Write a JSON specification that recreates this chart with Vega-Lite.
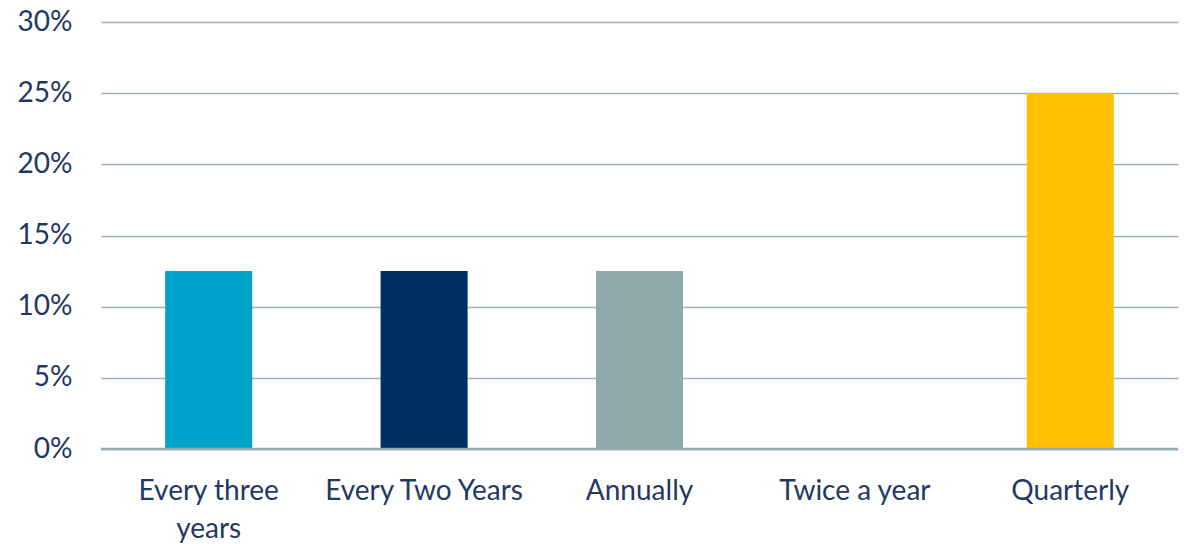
{
  "$schema": "https://vega.github.io/schema/vega-lite/v6.json",
  "autosize": {"type": "none"},
  "width": 1077,
  "height": 427,
  "padding": {"left": 101, "top": 22, "right": 6, "bottom": 95},
  "background": "white",
  "config": {"view": {"stroke": null}, "font": "Lato"},
  "data": {"values": [
    {"freq": "Every three years", "pct": 0.125},
    {"freq": "Every Two Years", "pct": 0.125},
    {"freq": "Annually", "pct": 0.125},
    {"freq": "Twice a year", "pct": 0},
    {"freq": "Quarterly", "pct": 0.25}
  ]},
  "layer": [
    {
      "mark": {"type": "bar"},
      "encoding": {
        "x": {
          "field": "freq", "type": "nominal", "sort": null,
          "scale": {"paddingInner": 0.596, "paddingOuter": 0.298},
          "axis": {
            "title": null, "labelAngle": 0, "domain": false, "ticks": false, "labelLimit": 0,
            "labelFontSize": 28, "labelColor": "#1F3864", "labelPadding": 28,
            "labelLineHeight": 38, "labelFont": "Lato",
            "labelExpr": "datum.label == 'Every three years' ? ['Every three', 'years'] : datum.label"
          }
        },
        "y": {
          "field": "pct", "type": "quantitative",
          "scale": {"domain": [0, 0.3], "nice": false},
          "axis": {
            "title": null, "format": ".0%", "values": [0, 0.05, 0.1, 0.15, 0.2, 0.25, 0.3],
            "domain": false, "ticks": false, "labelFontSize": 28, "labelColor": "#1F3864",
            "labelPadding": 29, "gridColor": "#9DB3B9", "gridWidth": 1.4, "labelFont": "Lato"
          }
        },
        "color": {
          "field": "freq", "type": "nominal", "legend": null,
          "scale": {
            "domain": ["Every three years", "Every Two Years", "Annually", "Twice a year", "Quarterly"],
            "range": ["#00A3C9", "#003060", "#8FA8AC", "#7F7F7F", "#FFC000"]
          }
        }
      }
    },
    {
      "data": {"values": [{"base": 0}]},
      "mark": {"type": "rule", "color": "#97ACB2", "strokeWidth": 2.5},
      "encoding": {"y": {"field": "base", "type": "quantitative"}}
    }
  ]
}
